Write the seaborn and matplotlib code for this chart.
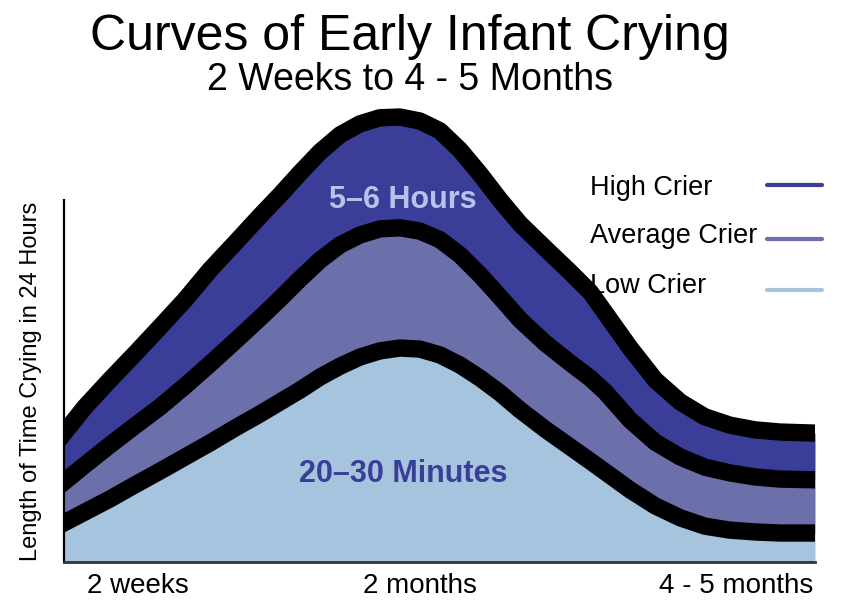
import matplotlib
matplotlib.use("Agg")
import matplotlib.pyplot as plt
from matplotlib.lines import Line2D
import seaborn as sns
import pandas as pd

# ----------------------- Data -----------------------
# age in weeks, 2 weeks .. about 4.5 months
weeks = [2.00, 2.50, 3.10, 3.70, 4.30, 4.90, 5.50, 6.10, 6.70, 7.18, 7.66, 8.14,
         8.62, 9.09, 9.57, 10.05, 10.53, 11.01, 11.49, 11.97, 12.45, 12.93,
         13.53, 14.13, 14.61, 14.97, 15.57, 16.17, 16.77, 17.36, 17.96, 18.56,
         19.16, 20.00]

# crying amount, arbitrary units (the chart has no y scale)
high_crier = [3.56, 4.28, 5.03, 5.75, 6.49, 7.24, 8.07, 8.81, 9.56, 10.14, 10.75,
              11.33, 11.80, 12.10, 12.27, 12.29, 12.18, 11.91, 11.38, 10.72, 10.00,
              9.34, 8.67, 8.01, 7.46, 6.88, 5.91, 5.03, 4.42, 4.01, 3.78, 3.65,
              3.59, 3.56]
average_crier = [2.21, 2.68, 3.23, 3.76, 4.28, 4.86, 5.47, 6.10, 6.74, 7.27, 7.82,
                 8.34, 8.76, 9.03, 9.20, 9.23, 9.14, 8.90, 8.48, 7.93, 7.32,
                 6.69, 6.05, 5.50, 5.08, 4.70, 3.92, 3.31, 2.90, 2.62, 2.46, 2.35,
                 2.29, 2.27]
low_crier = [1.08, 1.38, 1.74, 2.13, 2.51, 2.90, 3.29, 3.70, 4.09, 4.42, 4.75,
             5.11, 5.41, 5.66, 5.83, 5.91, 5.88, 5.72, 5.44, 5.08, 4.67,
             4.20, 3.67, 3.18, 2.79, 2.49, 1.99, 1.55, 1.22, 0.99, 0.88, 0.83,
             0.80, 0.80]

series_names = ["High Crier", "Average Crier", "Low Crier"]
series_colors = ["#3b3e98", "#6c70aa", "#a7c4de"]
x_labels = ["2 weeks", "2 months", "4 - 5 months"]

df = pd.DataFrame({"weeks": weeks, "High Crier": high_crier,
                   "Average Crier": average_crier, "Low Crier": low_crier})

# ----------------------- Figure -----------------------
sns.set_theme(style="white")
plt.rcParams["font.family"] = ["Liberation Sans", "DejaVu Sans"]
plt.rcParams["text.color"] = "black"

W, H = 853, 600
fig = plt.figure(figsize=(W / 100, H / 100), dpi=100)
ax = fig.add_axes([64 / W, 1 - 562 / H, (815 - 64) / W, (562 - 100) / H])

# filled bands, bottom up
ax.fill_between(df["weeks"], 0, df["Low Crier"], color=series_colors[2], lw=0)
ax.fill_between(df["weeks"], df["Low Crier"], df["Average Crier"], color=series_colors[1], lw=0)
ax.fill_between(df["weeks"], df["Average Crier"], df["High Crier"], color=series_colors[0], lw=0)

# thick black outlines
for name in series_names:
    sns.lineplot(data=df, x="weeks", y=name, color="black", linewidth=12.5,
                 solid_capstyle="projecting", solid_joinstyle="round", ax=ax)

ax.set_xlim(2, 20)
ax.set_ylim(0, 12.76)
ax.set_xticks([])
ax.set_yticks([])
ax.set_xlabel("")
ax.set_ylabel("")
sns.despine(ax=ax, top=True, right=True)
ax.spines["left"].set_bounds(0, 10)
ax.spines["left"].set_color("black")
ax.spines["left"].set_linewidth(1.6)
ax.spines["bottom"].set_color("#333333")
ax.spines["bottom"].set_linewidth(2)

# labels inside the bands
ax.text(10.13, 9.78, "5\u20136 Hours", ha="center", va="baseline", fontsize=22,
        fontweight="bold", color="#b3c6ea")
ax.text(10.13, 2.21, "20\u201330 Minutes", ha="center", va="baseline", fontsize=22,
        fontweight="bold", color="#3b3e98")

# titles
fig.text(410 / W, 1 - 50 / H, "Curves of Early Infant Crying", ha="center",
         va="baseline", fontsize=36, color="black")
fig.text(410 / W, 1 - 90 / H, "2 Weeks to 4 - 5 Months", ha="center",
         va="baseline", fontsize=27, color="black")

# axis labels
fig.text(42 / W, 1 - 381 / H, "Length of Time Crying in 24 Hours", rotation=90,
         ha="right", va="center", fontsize=17, color="black")
fig.text(87 / W, 1 - 593 / H, x_labels[0], ha="left", va="baseline", fontsize=20, color="black")
fig.text(420 / W, 1 - 593 / H, x_labels[1], ha="center", va="baseline", fontsize=20, color="black")
fig.text(813 / W, 1 - 593 / H, x_labels[2], ha="right", va="baseline", fontsize=20, color="black")

# legend: text on the left, coloured line on the right
legend_text_y = [195, 243, 293]
legend_line_y = [185, 239, 290]
for name, color, ty, ly in zip(series_names, series_colors, legend_text_y, legend_line_y):
    fig.text(590 / W, 1 - ty / H, name, ha="left", va="baseline", fontsize=19.5, color="black")
    fig.add_artist(Line2D([767 / W, 822 / W], [1 - ly / H, 1 - ly / H],
                          transform=fig.transFigure, color=color, linewidth=3))

fig.savefig("out.png", dpi=100)
